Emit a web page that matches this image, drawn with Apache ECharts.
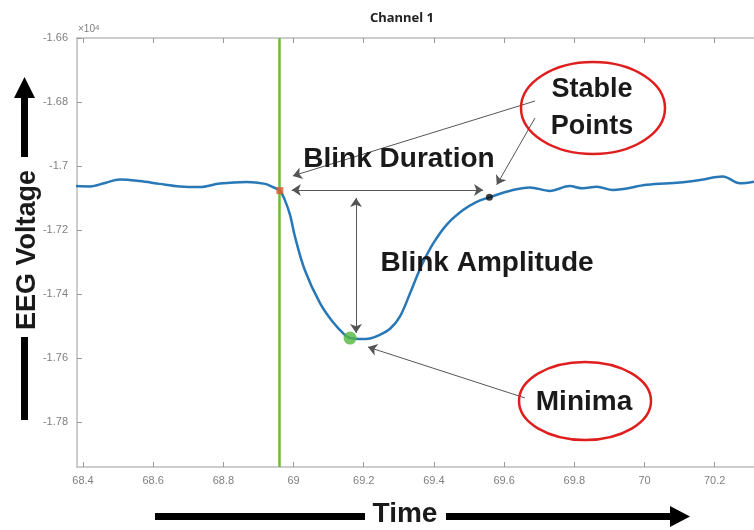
<!DOCTYPE html>
<html>
<head>
<meta charset="utf-8">
<script src="https://cdn.jsdelivr.net/npm/echarts/dist/echarts.min.js"></script>
<style>
  html, body { margin: 0; padding: 0; background: #fff; }
  #chart { width: 754px; height: 530px; }
</style>
</head>
<body>
<div id="chart"></div>
<script>
  // EEG trace (values shown in units of 1e4, like the source figure)
  var time = [68.380, 68.420, 68.463, 68.505, 68.562, 68.619, 68.676, 68.733, 68.790, 68.867,
    68.919, 68.941, 68.961, 68.975, 68.990, 69.004, 69.032, 69.075, 69.112, 69.146,
    69.161, 69.189, 69.218, 69.246, 69.275, 69.303, 69.332, 69.351, 69.370, 69.398,
    69.436, 69.483, 69.522, 69.558, 69.625, 69.673, 69.730, 69.787, 69.824, 69.864,
    69.910, 70.007, 70.101, 70.158, 70.223, 70.272, 70.312]
  var voltage = [-1.7063, -1.7064, -1.7053, -1.7042, -1.7047, -1.7056, -1.7064, -1.7066, -1.7055, -1.7050,
    -1.7056, -1.7066, -1.7077, -1.7106, -1.7153, -1.7221, -1.7325, -1.7428, -1.7488, -1.7528,
    -1.7538, -1.7541, -1.7539, -1.7528, -1.7509, -1.7471, -1.7398, -1.7346, -1.7299, -1.7242,
    -1.7184, -1.7138, -1.7112, -1.7098, -1.7075, -1.7067, -1.7078, -1.7063, -1.7070, -1.7065,
    -1.7075, -1.7059, -1.7052, -1.7044, -1.7033, -1.7054, -1.7049]

  var xTicks = [68.4, 68.6, 68.8, 69, 69.2, 69.4, 69.6, 69.8, 70, 70.2]
  var yTicks = [-1.78, -1.76, -1.74, -1.72, -1.7, -1.68, -1.66]

  var blinkStart = 68.961
  var stablePoints = [[68.961, -1.7077], [69.558, -1.7098]]
  var minimaPoint = [[69.161, -1.7538]]

  // annotation arrows [from, to] in data units
  var oneWayArrows = [
    [[69.688, -1.6797], [68.998, -1.7031]],
    [[69.688, -1.6850], [69.579, -1.7059]],
    [[69.659, -1.7725], [69.212, -1.7566]]
  ]
  var twoWayArrows = [
    [[68.995, -1.7075], [69.540, -1.7075]],
    [[69.178, -1.7100], [69.178, -1.7522]]
  ]

  var chart = echarts.init(document.getElementById('chart'))
  var axisGray = '#bdbdbd'
  var labelGray = '#7f7f7f'
  var bold = { fontFamily: 'Liberation Sans', fontWeight: 'bold', fill: '#1a1a1a' }

  function fmt(v) {
    return String(+v.toFixed(4))
  }

  chart.setOption({
    animation: false,
    grid: { left: 77, top: 38, right: 0, bottom: 63 },
    xAxis: [{
      type: 'value',
      min: 68.383,
      max: 70.312,
      axisLine: { lineStyle: { color: axisGray, width: 1.5 } },
      axisTick: { inside: true, length: 5, customValues: xTicks, lineStyle: { color: '#999' } },
      axisLabel: { customValues: xTicks, color: labelGray, fontSize: 11, fontFamily: 'Liberation Sans', margin: 8, formatter: fmt },
      splitLine: { show: false }
    }, {
      type: 'value',
      position: 'top',
      min: 68.383,
      max: 70.312,
      axisLine: { lineStyle: { color: axisGray, width: 1.5 } },
      axisTick: { inside: true, length: 5, customValues: xTicks, lineStyle: { color: '#999' } },
      axisLabel: { show: false },
      splitLine: { show: false }
    }],
    yAxis: {
      type: 'value',
      min: -1.7941,
      max: -1.66,
      axisLine: { show: true, lineStyle: { color: axisGray, width: 1.5 } },
      axisTick: { show: true, inside: true, length: 5, customValues: yTicks, lineStyle: { color: '#999' } },
      axisLabel: { customValues: yTicks, color: labelGray, fontSize: 11, fontFamily: 'Liberation Sans', margin: 9, formatter: fmt },
      splitLine: { show: false }
    },
    series: [
      {
        type: 'line',
        data: time.map(function(t, i) { return [t, voltage[i]] }),
        smooth: 0.35,
        showSymbol: false,
        lineStyle: { color: '#2878b8', width: 2.5 },
        markLine: {
          silent: true,
          symbol: 'none',
          label: { show: false },
          lineStyle: { color: '#6dbb34', width: 2.5, type: 'solid' },
          data: [{ xAxis: blinkStart }]
        },
        z: 3
      },
      {
        type: 'lines',
        coordinateSystem: 'cartesian2d',
        symbol: ['none', 'arrow'],
        symbolSize: 9,
        lineStyle: { color: '#555', width: 1, opacity: 1 },
        data: oneWayArrows.map(function(a) { return { coords: a } }),
        z: 2
      },
      {
        type: 'lines',
        coordinateSystem: 'cartesian2d',
        symbol: ['arrow', 'arrow'],
        symbolSize: 9,
        lineStyle: { color: '#555', width: 1, opacity: 1 },
        data: twoWayArrows.map(function(a) { return { coords: a } }),
        z: 2
      },
      {
        type: 'scatter',
        data: [stablePoints[0]],
        symbol: 'rect',
        symbolSize: 7,
        itemStyle: { color: '#e2562e' },
        z: 5
      },
      {
        type: 'scatter',
        data: [stablePoints[1]],
        symbolSize: 7,
        itemStyle: { color: '#111' },
        z: 5
      },
      {
        type: 'scatter',
        data: minimaPoint,
        symbolSize: 13,
        itemStyle: { color: '#55b840' },
        z: 5
      }
    ],
    graphic: [
      { type: 'text', left: 370, top: 12, style: { text: 'Channel 1', font: 'bold 13px "Noto Sans"', fill: '#222' } },
      { type: 'text', left: 78, top: 24, style: { rich: { a: { fontSize: 10, fill: labelGray, fontFamily: 'Liberation Sans' }, s: { fontSize: 8, fill: labelGray, fontFamily: 'Liberation Sans', verticalAlign: 'top' } }, text: '{a|×10}{s|4}' } },
      // annotation texts
      { type: 'text', x: 399, y: 159, style: Object.assign({ text: 'Blink Duration', fontSize: 28, align: 'center', verticalAlign: 'middle' }, bold), z: 10 },
      { type: 'text', x: 487, y: 263, style: Object.assign({ text: 'Blink Amplitude', fontSize: 28, align: 'center', verticalAlign: 'middle' }, bold), z: 10 },
      { type: 'ellipse', shape: { cx: 593, cy: 108, rx: 72, ry: 46 }, style: { fill: 'none', stroke: '#e01e1e', lineWidth: 2.5 }, z: 10 },
      { type: 'text', x: 592, y: 90, style: Object.assign({ text: 'Stable', fontSize: 27, align: 'center', verticalAlign: 'middle' }, bold), z: 10 },
      { type: 'text', x: 592, y: 127, style: Object.assign({ text: 'Points', fontSize: 27, align: 'center', verticalAlign: 'middle' }, bold), z: 10 },
      { type: 'ellipse', shape: { cx: 585, cy: 401, rx: 66, ry: 39 }, style: { fill: 'none', stroke: '#e01e1e', lineWidth: 2.5 }, z: 10 },
      { type: 'text', x: 584, y: 402, style: Object.assign({ text: 'Minima', fontSize: 28, align: 'center', verticalAlign: 'middle' }, bold), z: 10 },
      // EEG Voltage axis label with arrow
      { type: 'text', x: 28, y: 250, rotation: Math.PI / 2, style: Object.assign({ text: 'EEG Voltage', fontSize: 27, align: 'center', verticalAlign: 'middle' }, bold), z: 10 },
      { type: 'rect', shape: { x: 21, y: 95, width: 7, height: 62 }, style: { fill: '#000' } },
      { type: 'polygon', shape: { points: [[24.5, 77], [14, 98], [35, 98]] }, style: { fill: '#000' } },
      { type: 'rect', shape: { x: 21, y: 337, width: 7, height: 83 }, style: { fill: '#000' } },
      // Time label with arrow
      { type: 'text', x: 405, y: 514, style: Object.assign({ text: 'Time', fontSize: 28, align: 'center', verticalAlign: 'middle' }, bold), z: 10 },
      { type: 'rect', shape: { x: 155, y: 513, width: 210, height: 7 }, style: { fill: '#000' } },
      { type: 'rect', shape: { x: 446, y: 513, width: 228, height: 7 }, style: { fill: '#000' } },
      { type: 'polygon', shape: { points: [[690, 516.5], [670, 506], [670, 527]] }, style: { fill: '#000' } }
    ]
  })
</script>
</body>
</html>
